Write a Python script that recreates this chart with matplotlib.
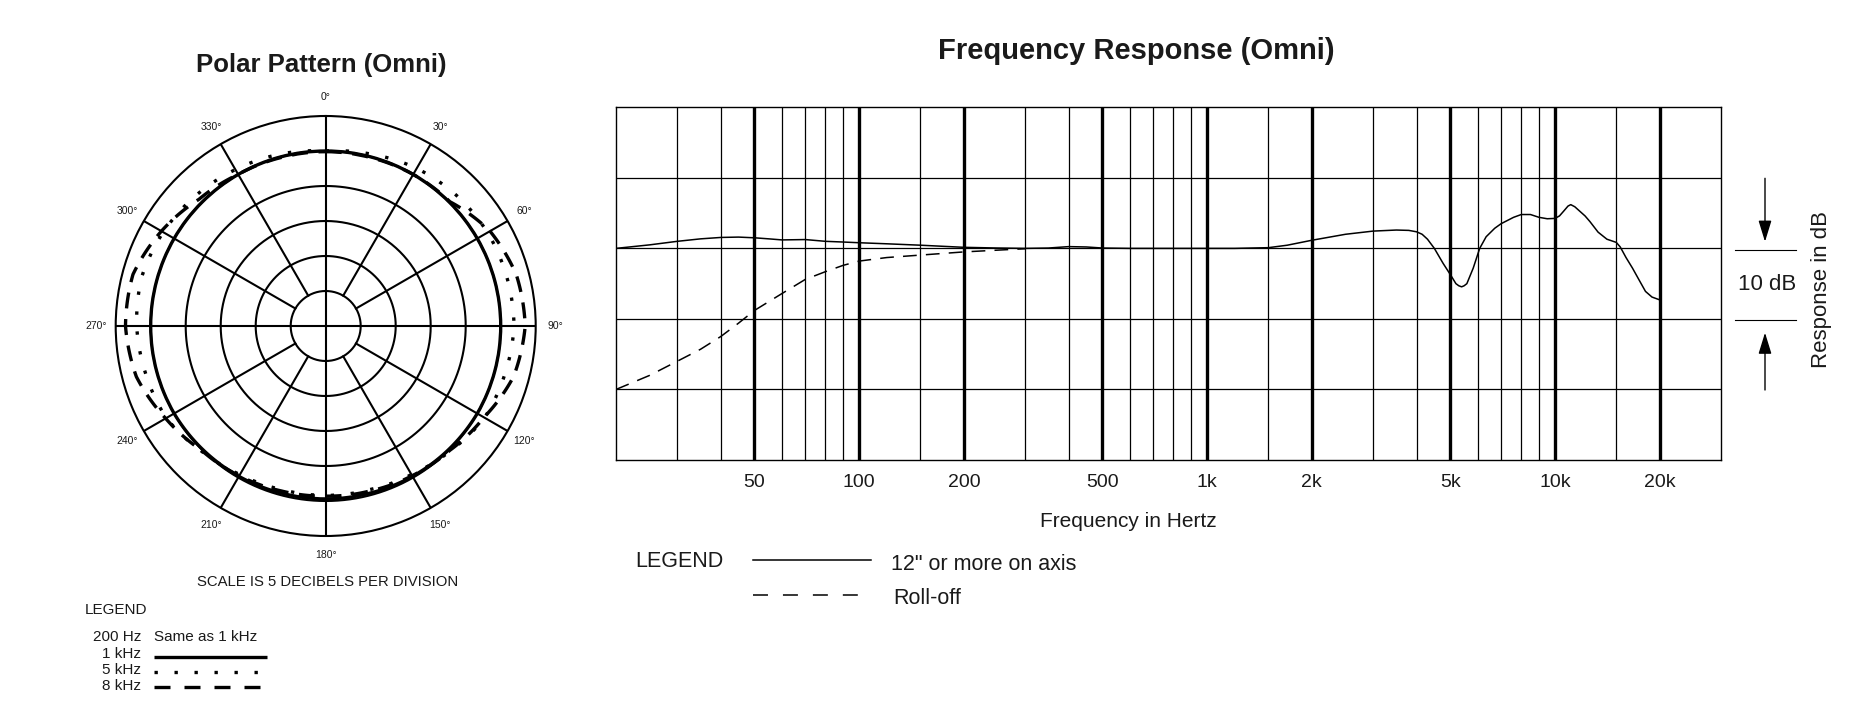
import numpy as np
import matplotlib
matplotlib.use('Agg')
import matplotlib.pyplot as plt
from matplotlib.lines import Line2D

plt.rcParams['font.family'] = ['Liberation Sans', 'DejaVu Sans']

W, H = 1875, 722

# ---------------- data ----------------
polar_angles = [0, 15, 30, 45, 60, 75, 90, 105, 120, 135, 150, 165, 180,
                195, 210, 225, 240, 255, 270, 285, 300, 315, 330, 345, 360]
polar_1k = [-5.0, -5.0, -5.0, -5.0, -5.0, -5.0, -5.0, -5.0, -5.0, -5.1, -5.2, -5.3, -5.3,
            -5.3, -5.2, -5.1, -5.0, -5.0, -5.0, -5.0, -5.0, -5.0, -5.0, -5.0, -5.0]
polar_5k = [-5.0, -4.6, -4.0, -3.6, -3.3, -3.2, -3.1, -3.5, -3.8, -4.8, -5.5, -5.8, -5.8,
            -5.8, -5.5, -4.8, -3.7, -3.4, -3.0, -2.8, -3.2, -3.7, -4.2, -4.6, -5.0]
polar_8k = [-5.1, -5.1, -5.0, -4.9, -2.9, -1.8, -1.5, -2.2, -3.9, -4.9, -5.3, -5.6, -5.7,
            -5.6, -5.3, -4.9, -3.6, -2.0, -1.4, -1.5, -2.9, -4.4, -5.0, -5.1, -5.1]
polar_rings = [-25, -20, -15, -10, -5]
polar_label_angles = [0, 30, 60, 90, 120, 150, 180, 210, 240, 270, 300, 330]
polar_labels = ['0°', '30°', '60°', '90°', '120°', '150°', '180°',
                '210°', '240°', '270°', '300°', '330°']

freq_solid_hz = [20, 25, 30, 35, 40, 45, 50, 55, 60, 70, 80, 90, 100, 120, 150, 200,
                 250, 300, 350, 400, 450, 500, 600, 800, 1000, 1200, 1500, 1700, 2000,
                 2500, 3000, 3500, 3800, 4000, 4150, 4300, 4500, 4765, 5015, 5190, 5290,
                 5390, 5480, 5580, 5820, 6075, 6340, 6710, 7000, 7600, 8000, 8500, 9000,
                 9500, 10000, 10300, 10600, 10900, 11100, 11400, 11700, 12200, 12600,
                 13300, 14100, 15000, 15400, 16000, 16700, 17500, 18200, 19000, 20000]
freq_solid_db = [0.0, 0.5, 1.0, 1.35, 1.55, 1.6, 1.5, 1.35, 1.2, 1.25, 1.0, 0.9, 0.8, 0.65,
                 0.45, 0.15, 0.05, 0.0, 0.05, 0.25, 0.2, 0.05, 0.0, 0.0, 0.0, 0.0, 0.1,
                 0.45, 1.15, 2.0, 2.45, 2.6, 2.55, 2.35, 2.0, 1.3, 0.0, -2.1, -3.8, -5.0,
                 -5.3, -5.45, -5.3, -5.0, -2.8, 0.0, 1.65, 2.85, 3.5, 4.4, 4.8, 4.8, 4.4,
                 4.2, 4.25, 4.6, 5.3, 6.0, 6.2, 5.9, 5.4, 4.6, 3.8, 2.3, 1.3, 0.85, 0.2,
                 -1.3, -2.8, -4.6, -6.1, -6.9, -7.3]
freq_rolloff_hz = [20, 25, 30, 35, 40, 45, 50, 60, 70, 80, 90, 100, 120, 150, 200, 250, 300]
freq_rolloff_db = [-20.0, -18.0, -16.0, -14.3, -12.5, -10.6, -8.8, -6.4, -4.4, -3.3, -2.4,
                   -1.8, -1.3, -0.95, -0.5, -0.25, -0.05]

grid_freqs = [30, 40, 50, 60, 70, 80, 90, 100, 150, 200, 300, 400, 500, 600, 700, 800, 900,
              1000, 1500, 2000, 3000, 4000, 5000, 6000, 7000, 8000, 9000, 10000, 15000, 20000]
major_freqs = [50, 100, 200, 500, 1000, 2000, 5000, 10000, 20000]
major_labels = ['50', '100', '200', '500', '1k', '2k', '5k', '10k', '20k']
db_levels = [-20, -10, 0, 10]

TXT = '#1a1a1a'

fig = plt.figure(figsize=(W / 100, H / 100), dpi=100)
fig.patch.set_facecolor('white')


def fx(x):
    return x / W


def fy(y):
    return 1 - y / H


# ---------------- polar chart ----------------
cx, cy, R = 325.7, 326.0, 210.0
axp = fig.add_axes([fx(cx - R), fy(cy + R), 2 * R / W, 2 * R / H], projection='polar')
axp.set_theta_zero_location('N')
axp.set_theta_direction(-1)
axp.set_rlim(-30, 0)
axp.set_xticks([])
axp.set_yticks([])
axp.grid(False)
axp.spines['polar'].set_linewidth(1.5)
axp.spines['polar'].set_color('black')

circ = np.linspace(0, 2 * np.pi, 361)
for lvl in polar_rings:
    axp.plot(circ, np.full_like(circ, lvl), color='black', lw=1.5, zorder=1)
for a in range(0, 360, 30):
    th = np.deg2rad(a)
    if a % 90 == 0:
        axp.plot([th, th], [-30, 0], color='black', lw=1.5, zorder=1)
    else:
        axp.plot([th, th], [-25, 0], color='black', lw=1.5, zorder=1)

th = np.deg2rad(polar_angles)
curves = []
curves += axp.plot(th, polar_1k, color='black', lw=2.4, solid_capstyle='butt', zorder=3)
curves += axp.plot(th, polar_5k, color='black', lw=2.4, linestyle=(0, (1, 5)), zorder=3)
curves += axp.plot(th, polar_8k, color='black', lw=2.4, linestyle=(0, (4.8, 3.2)), zorder=3)
for ln in curves:
    # draw each segment along arcs/spirals in polar space
    ln.get_path()._interpolation_steps = 40

for a, lab in zip(polar_label_angles, polar_labels):
    axp.text(np.deg2rad(a), 2.75, lab, ha='center', va='center', fontsize=7.5,
             color=TXT, clip_on=False)

fig.text(fx(321), fy(71.7), 'Polar Pattern (Omni)', ha='center', va='baseline',
         fontsize=18.5, fontweight='bold', color=TXT)
fig.text(fx(328), fy(582), 'SCALE IS 5 DECIBELS PER DIVISION', ha='center', va='center',
         fontsize=10.7, color=TXT)
fig.text(fx(85), fy(610), 'LEGEND', ha='left', va='center', fontsize=11, color=TXT)
fig.text(fx(141), fy(637), '200 Hz', ha='right', va='center', fontsize=11, color=TXT)
fig.text(fx(154), fy(637), 'Same as 1 kHz', ha='left', va='center', fontsize=11, color=TXT)
fig.text(fx(141), fy(654), '1 kHz', ha='right', va='center', fontsize=11, color=TXT)
fig.text(fx(141), fy(670), '5 kHz', ha='right', va='center', fontsize=11, color=TXT)
fig.text(fx(141), fy(686.5), '8 kHz', ha='right', va='center', fontsize=11, color=TXT)
fig.add_artist(Line2D([fx(154), fx(267)], [fy(657), fy(657)], transform=fig.transFigure,
                      color='black', lw=2.4, solid_capstyle='butt'))
fig.add_artist(Line2D([fx(154), fx(266)], [fy(671.5), fy(671.5)], transform=fig.transFigure,
                      color='black', lw=2.4, linestyle=(0, (1, 5))))
fig.add_artist(Line2D([fx(154), fx(263)], [fy(687), fy(687)], transform=fig.transFigure,
                      color='black', lw=2.4, linestyle=(0, (4.8, 4.2))))

# ---------------- frequency response ----------------
L, Rr, T, B = 616, 1721, 107.3, 460
axf = fig.add_axes([fx(L), fy(B), (Rr - L) / W, (B - T) / H])
axf.set_xscale('log')
axf.set_xlim(20, 30000)
axf.set_ylim(-30, 20)
for f in grid_freqs:
    axf.axvline(f, color='black', lw=2.4 if f in major_freqs else 0.9, zorder=1)
for d in db_levels:
    axf.axhline(d, color='black', lw=0.9, zorder=1)
for s in axf.spines.values():
    s.set_linewidth(1.0)
    s.set_color('black')
axf.set_xticks(major_freqs)
axf.set_xticklabels(major_labels)
axf.xaxis.set_minor_locator(matplotlib.ticker.NullLocator())
axf.set_yticks([])
axf.tick_params(axis='x', length=0, pad=10, labelsize=14, labelcolor=TXT)

axf.plot(freq_solid_hz, freq_solid_db, color='black', lw=1.1, zorder=3)
axf.plot(freq_rolloff_hz, freq_rolloff_db, color='black', lw=1.1,
         linestyle=(0, (9, 6)), zorder=3)

fig.text(fx(1136.5), fy(59.3), 'Frequency Response (Omni)', ha='center', va='baseline',
         fontsize=21, fontweight='bold', color=TXT)
fig.text(fx(1128), fy(527), 'Frequency in Hertz', ha='center', va='baseline',
         fontsize=15, color=TXT)

# 10 dB marker
fig.add_artist(Line2D([fx(1735), fx(1796)], [fy(249.5), fy(249.5)], transform=fig.transFigure,
                      color='black', lw=0.8))
fig.add_artist(Line2D([fx(1735), fx(1796)], [fy(320), fy(320)], transform=fig.transFigure,
                      color='black', lw=0.8))
fig.text(fx(1767), fy(284), '10 dB', ha='center', va='center', fontsize=16, color=TXT)
arrow_kw = dict(arrowstyle='-|>,head_length=1.3,head_width=0.4', lw=1.0, color='black',
                shrinkA=0, shrinkB=0, mutation_scale=10)
axf.annotate('', xy=(1765, H - 241.7), xytext=(1765, H - 178.3), xycoords='figure pixels',
             textcoords='figure pixels', arrowprops=arrow_kw, annotation_clip=False)
axf.annotate('', xy=(1765, H - 332.7), xytext=(1765, H - 390), xycoords='figure pixels',
             textcoords='figure pixels', arrowprops=arrow_kw, annotation_clip=False)
fig.text(fx(1821), fy(289), 'Response in dB', ha='center', va='center', rotation=90,
         fontsize=16, color=TXT)

# legend
fig.text(fx(635), fy(561.7), 'LEGEND', ha='left', va='center', fontsize=15.5, color=TXT)
fig.add_artist(Line2D([fx(753), fx(871)], [fy(560), fy(560)], transform=fig.transFigure,
                      color='black', lw=1.1))
fig.text(fx(891), fy(564), '12" or more on axis', ha='left', va='center', fontsize=15.5,
         color=TXT)
fig.add_artist(Line2D([fx(753), fx(859)], [fy(595), fy(595)], transform=fig.transFigure,
                      color='black', lw=1.1, linestyle=(0, (9.8, 9.8))))
fig.text(fx(893), fy(598), 'Roll-off', ha='left', va='center', fontsize=15.5, color=TXT)

fig.savefig('out.png', dpi=100, facecolor='white')
